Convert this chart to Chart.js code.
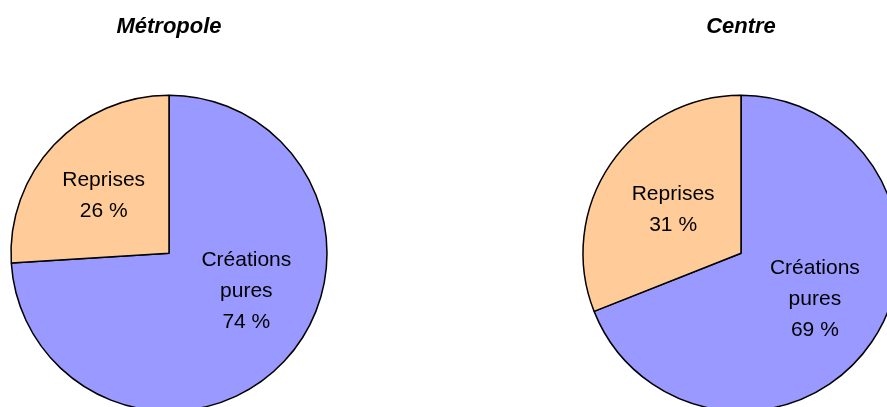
<!DOCTYPE html>
<html>
<head>
<meta charset="utf-8">
<script src="https://cdn.jsdelivr.net/npm/chart.js@4"></script>
<style>
  html, body { margin: 0; padding: 0; width: 887px; height: 407px; overflow: hidden; background: #fff; }
  .pie { position: absolute; top: 0; width: 338px; height: 466px; }
  #pie-metropole { left: 0; }
  #pie-centre { left: 572px; }
</style>
</head>
<body>
<div class="pie" id="pie-metropole"><canvas id="chart-metropole"></canvas></div>
<div class="pie" id="pie-centre"><canvas id="chart-centre"></canvas></div>
<script>
// Répartition des créations d'entreprises
const categories = ['Créations pures', 'Reprises'];
const metropoleValues = [74, 26];
const centreValues = [69, 31];
const sliceColors = ['#9999ff', '#ffcc99'];

const FONT = '"Liberation Sans", Arial, Helvetica, sans-serif';

// Draw "label / value %" inside each slice, near its centroid (with optional nudge)
const sliceLabels = {
  id: 'sliceLabels',
  afterDatasetsDraw(chart, args, opts) {
    const ctx = chart.ctx;
    const meta = chart.getDatasetMeta(0);
    const values = chart.data.datasets[0].data;
    const nudge = opts.nudge || [];
    ctx.save();
    ctx.font = '21px ' + FONT;
    ctx.fillStyle = '#000';
    ctx.textAlign = 'center';
    ctx.textBaseline = 'middle';
    meta.data.forEach((arc, i) => {
      const p = arc.getProps(['x', 'y', 'startAngle', 'endAngle', 'outerRadius'], true);
      const mid = (p.startAngle + p.endAngle) / 2;
      const r = p.outerRadius * 0.55;
      const n = nudge[i] || [0, 0];
      const cx = p.x + Math.cos(mid) * r + n[0];
      const cy = p.y + Math.sin(mid) * r + n[1];
      const lines = chart.data.labels[i].split(' ').concat([values[i] + ' %']);
      lines.forEach((t, k) => {
        ctx.fillText(t, cx, cy + (k - (lines.length - 1) / 2) * 31);
      });
    });
    ctx.restore();
  }
};

function makePie(canvasId, title, values, nudge) {
  return new Chart(document.getElementById(canvasId), {
    type: 'pie',
    data: {
      labels: categories,
      datasets: [{
        data: values,
        backgroundColor: sliceColors,
        borderColor: '#000',
        borderWidth: 1.5
      }]
    },
    options: {
      responsive: true,
      maintainAspectRatio: false,
      animation: false,
      radius: 158,
      layout: { padding: 0 },
      plugins: {
        legend: { display: false },
        tooltip: { enabled: false },
        sliceLabels: { nudge: nudge },
        title: {
          display: true,
          text: title,
          color: '#000',
          font: { family: FONT, size: 22, weight: 'bold', style: 'italic', lineHeight: 1.2 },
          padding: { top: 14, bottom: 0 }
        }
      }
    },
    plugins: [sliceLabels]
  });
}

makePie('chart-metropole', 'Métropole', metropoleValues, [[14, -21], [-2, 2]]);
makePie('chart-centre', 'Centre', centreValues, [[2, -3], [4, 5]]);
</script>
</body>
</html>
